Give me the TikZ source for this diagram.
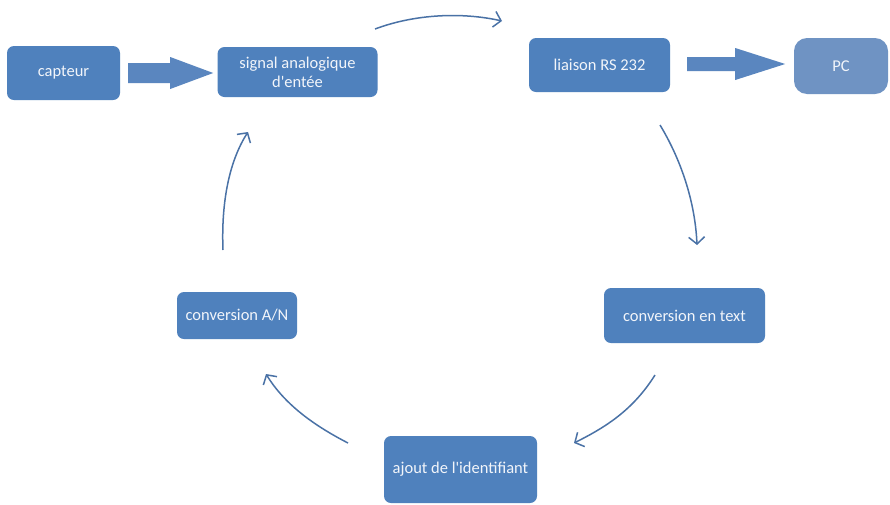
\documentclass[tikz,border=0pt]{standalone}
\usepackage{fontspec}
\setmainfont{Carlito}
\usetikzlibrary{arrows.meta,calc}
\definecolor{boxblue}{HTML}{4F81BD}
\definecolor{pcblue}{HTML}{6F93C3}
\definecolor{arrowblue}{HTML}{4A72A6}
\definecolor{blockblue}{HTML}{5A86BF}
\definecolor{txt}{HTML}{F2F5FA}
\begin{document}
\begin{tikzpicture}[x=1pt,y=-1pt,
  box/.style={fill=boxblue, rounded corners=7pt, text=txt, font=\fontsize{16.5}{19}\selectfont, align=center, inner sep=0pt},
  flow/.style={draw=arrowblue, line width=1.5pt, -{Straight Barb[length=7pt,width=16pt,line width=1.5pt]}},
  block/.style={fill=blockblue, draw=none}]
  \fill[white] (0,0) rectangle (890,504);
  \useasboundingbox (0,0) rectangle (890,504);

  % boxes
  \node[box, minimum width=113pt, minimum height=54pt] (capteur) at (63.5,73) {capteur};
  \node[box, minimum width=160pt, minimum height=50pt] (signal) at (297.5,72) {signal analogique\\d\textquotesingle entée};
  \node[box, minimum width=141pt, minimum height=54pt] (liaison) at (599.5,65) {liaison RS 232};
  \node[box, fill=pcblue, rounded corners=13pt, minimum width=94pt, minimum height=56pt] (pc) at (841,66) {PC};
  \node[box, minimum width=161pt, minimum height=55pt] (ctext) at (684.5,315.5) {conversion en text};
  \node[box, minimum width=153pt, minimum height=67pt] (ajout) at (460.5,469.5) {ajout de l\textquotesingle identifiant};
  \node[box, minimum width=120pt, minimum height=47pt] (conv) at (237,315.5) {conversion A/N};

  % block arrows
  \fill[block] ($(capteur.east)+(8,-10)$) -- ($(capteur.east)+(50,-10)$) -- ($(capteur.east)+(50,-16)$)
    -- ($(capteur.east)+(93,0)$) -- ($(capteur.east)+(50,16)$) -- ($(capteur.east)+(50,10)$)
    -- ($(capteur.east)+(8,10)$) -- cycle;
  \fill[block] ($(liaison.east)+(17,-8)$) -- ($(liaison.east)+(65,-8)$) -- ($(liaison.east)+(65,-17)$)
    -- ($(liaison.east)+(115,-1)$) -- ($(liaison.east)+(65,15)$) -- ($(liaison.east)+(65,6)$)
    -- ($(liaison.east)+(17,6)$) -- cycle;

  % cycle arrows
  \coordinate (a1) at (375,29);   \coordinate (b1) at (502,21);
  \coordinate (a2) at (660,125);  \coordinate (b2) at (697,245);
  \coordinate (a3) at (655,375);  \coordinate (b3) at (574,443);
  \coordinate (a4) at (348,443);  \coordinate (b4) at (266,374);
  \coordinate (a5) at (223,250);  \coordinate (b5) at (248,132);
  \draw[flow] (a1) .. controls (415,14) and (462,12) .. (b1);
  \draw[flow] (a2) .. controls (680,158) and (695,200) .. (b2);
  \draw[flow] (a3) .. controls (633,410) and (606,427) .. (b3);
  \draw[flow] (a4) .. controls (315,426) and (285,405) .. (b4);
  \draw[flow] (a5) .. controls (221,200) and (230,160) .. (b5);
\end{tikzpicture}
\end{document}
